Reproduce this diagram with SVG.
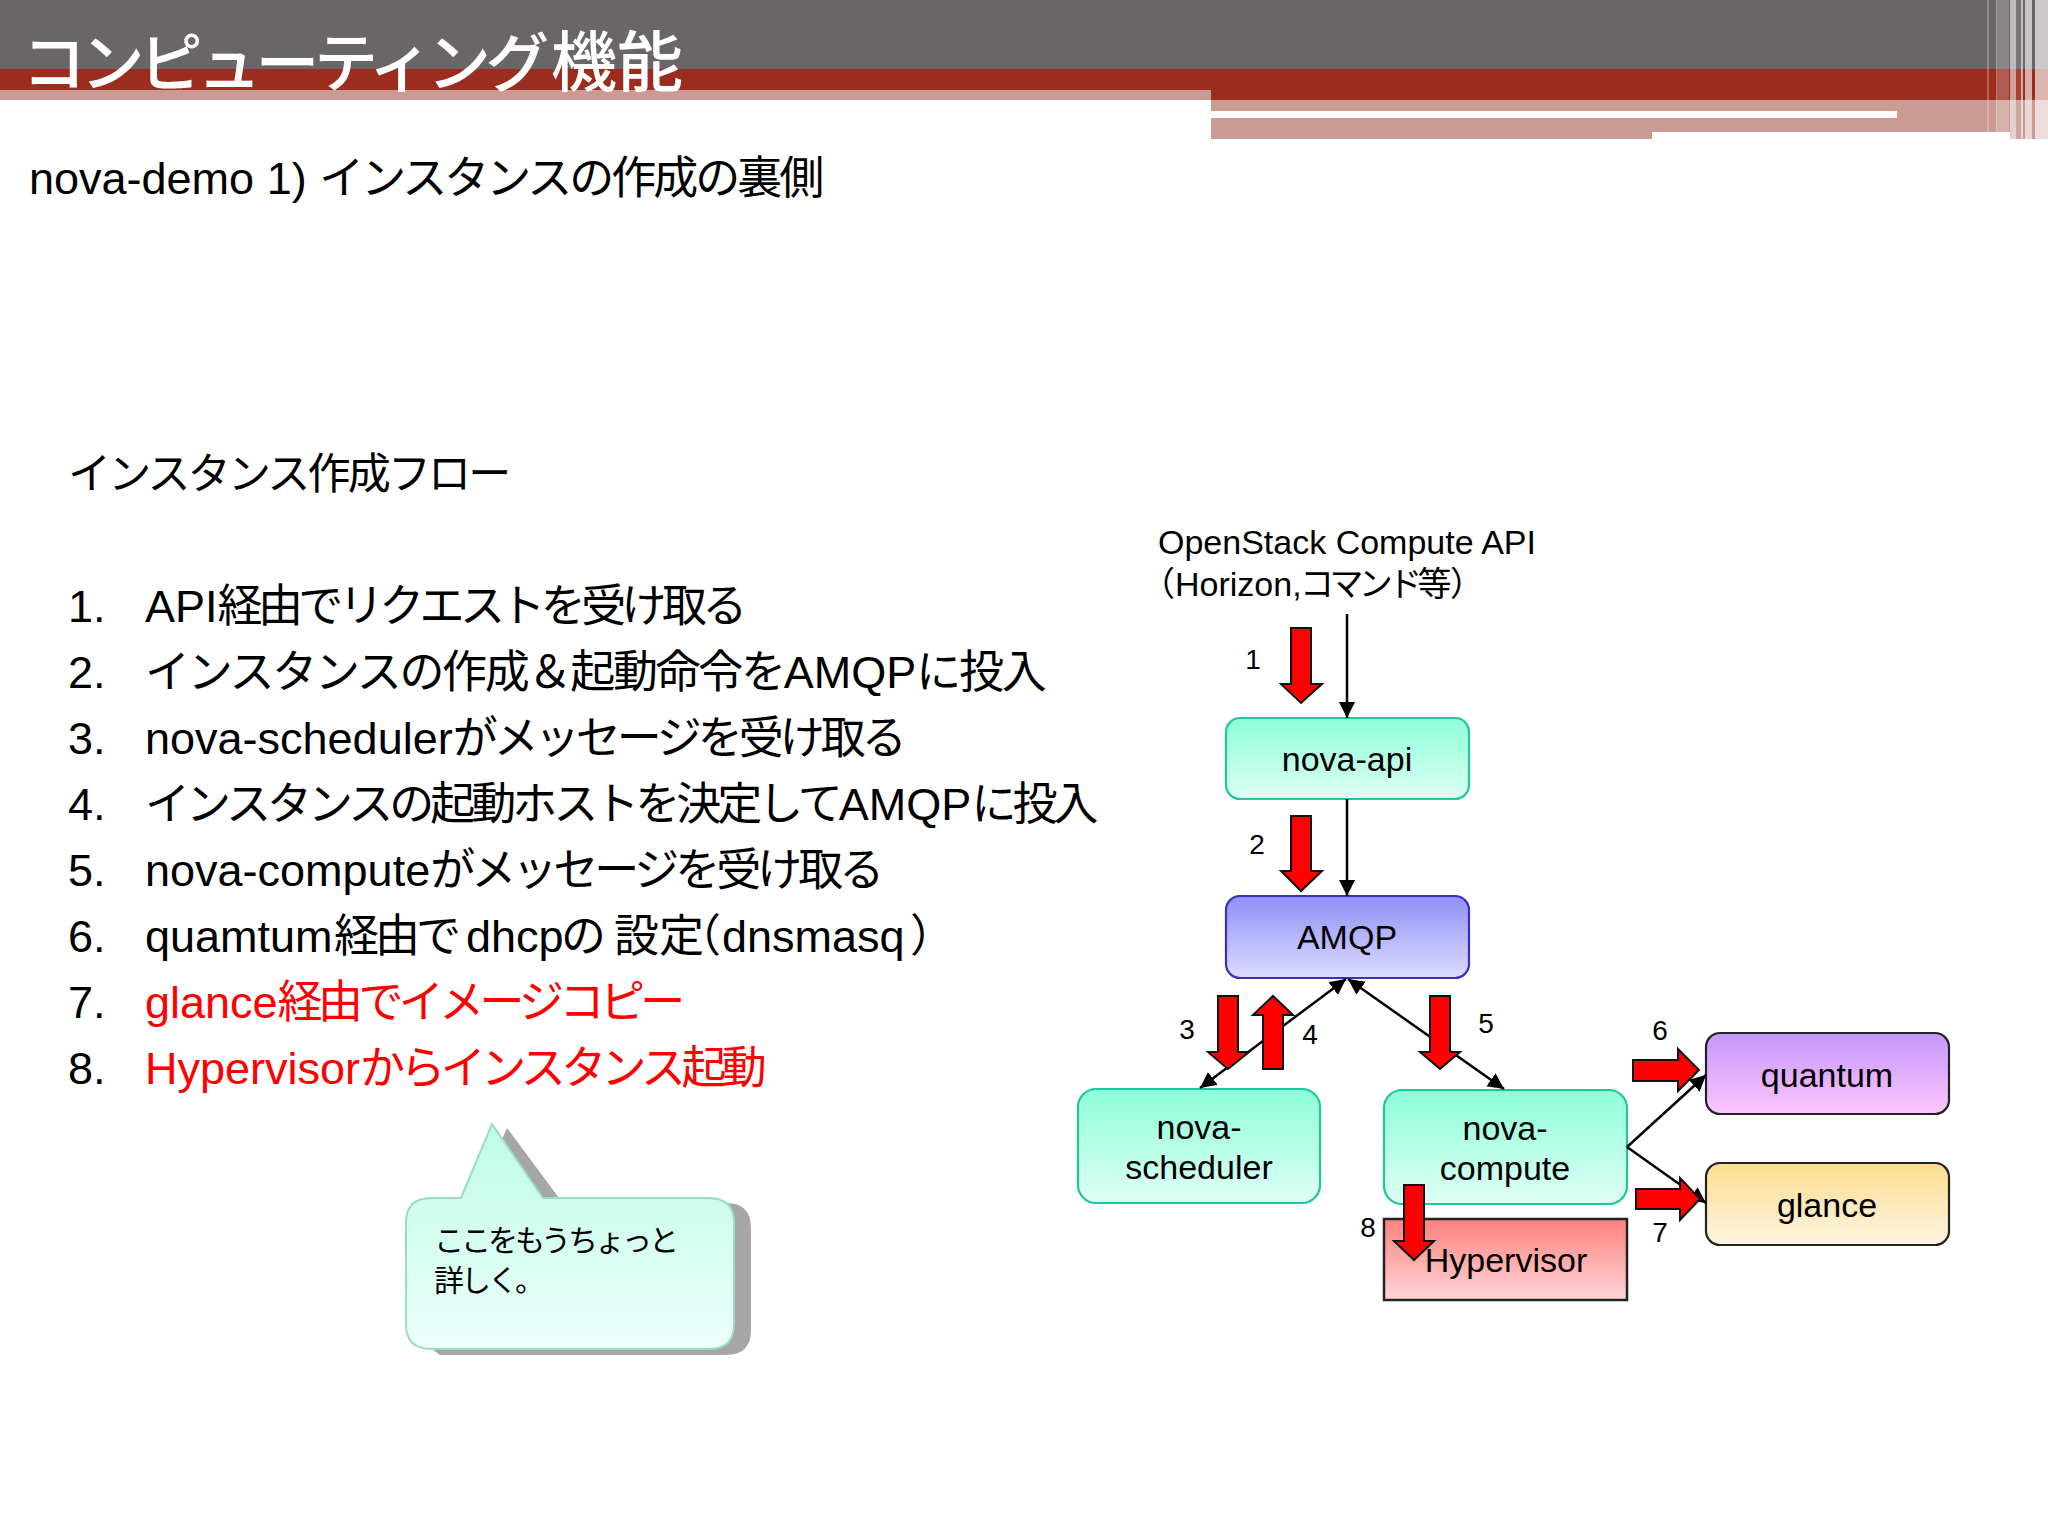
<svg xmlns="http://www.w3.org/2000/svg" width="2048" height="1536" viewBox="0 0 2048 1536">
<style>
text{font-family:"Liberation Sans","Noto Sans CJK JP",sans-serif;fill:#000}
.li{font-size:45px}
.red,.red tspan{fill:#f00}
.n{font-size:34px;text-anchor:middle}
.num{font-size:28px;text-anchor:middle}
.box{stroke-width:2.2}
.arrow{fill:#f00;stroke:#111;stroke-width:2}
.line{stroke:#000;stroke-width:2.5;fill:none}
.s2{letter-spacing:-2.3px}
.s3{letter-spacing:-3px}
.s4{letter-spacing:-4px}
.s5{letter-spacing:-4.6px}
</style>
<defs>
<linearGradient id="gTeal" x1="0" y1="0" x2="0" y2="1"><stop offset="0" stop-color="#8dffd8"/><stop offset="1" stop-color="#dffff4"/></linearGradient>
<linearGradient id="gBlue" x1="0" y1="0" x2="0" y2="1"><stop offset="0" stop-color="#8f8ff8"/><stop offset="1" stop-color="#dcdcff"/></linearGradient>
<linearGradient id="gRed" x1="0" y1="0" x2="0" y2="1"><stop offset="0" stop-color="#ff8080"/><stop offset="1" stop-color="#ffd6d6"/></linearGradient>
<linearGradient id="gPurple" x1="0" y1="0" x2="0" y2="1"><stop offset="0" stop-color="#c496fb"/><stop offset="1" stop-color="#fdc6ff"/></linearGradient>
<linearGradient id="gYellow" x1="0" y1="0" x2="0" y2="1"><stop offset="0" stop-color="#fddc8e"/><stop offset="1" stop-color="#fdf5e2"/></linearGradient>
<linearGradient id="gCall" x1="0" y1="0" x2="0" y2="1"><stop offset="0" stop-color="#bdfce6"/><stop offset="1" stop-color="#edfffb"/></linearGradient>
<marker id="head" markerUnits="userSpaceOnUse" markerWidth="18" markerHeight="18" refX="16" refY="8" orient="auto-start-reverse"><path d="M0 0L16 8L0 16Z" fill="#000"/></marker>
</defs>
<rect width="2048" height="1536" fill="#fff"/>
<g id="header">
<rect width="2048" height="69" fill="#6a6566"/>
<rect y="69" width="2048" height="31" fill="#9b2d1f"/>
<rect y="90" width="1211" height="10" fill="#cb9a93"/>
<rect x="1211" y="100" width="837" height="11" fill="#cb9a93"/>
<rect x="1897" y="111" width="151" height="7" fill="#cb9a93"/>
<rect x="1211" y="118" width="441" height="21" fill="#cb9a93"/>
<rect x="1652" y="118" width="396" height="14" fill="#cb9a93"/>
<rect x="2010" y="132" width="38" height="7" fill="#cb9a93"/>
<rect x="1987" y="0" width="2" height="132" fill="#fff" opacity=".25"/>
<rect x="1996" y="0" width="1" height="132" fill="#fff" opacity=".35"/>
<rect x="1997" y="0" width="12" height="132" fill="#fff" opacity=".22"/>
<rect x="2010" y="0" width="6" height="139" fill="#fff" opacity=".55"/>
<rect x="2016" y="0" width="5" height="139" fill="#fff" opacity=".1"/>
<rect x="2021" y="0" width="2" height="139" fill="#fff" opacity=".6"/>
<rect x="2025" y="0" width="7" height="139" fill="#fff" opacity=".62"/>
<rect x="2035" y="0" width="13" height="139" fill="#fff" opacity=".65"/>
</g>
<text y="86" font-size="64" font-weight="500" style="fill:#fff"><tspan x="22" letter-spacing="-5.6">コンピューティング</tspan><tspan x="551" font-size="66">機能</tspan></text>
<text x="29" y="194" font-size="45">nova-demo 1) <tspan class="s3">インスタンスの作成の裏側</tspan></text>
<text x="68" y="489" font-size="43" letter-spacing="-2.8">インスタンス作成フロー</text>
<g id="steps">
<text class="li" x="68" y="622">1.</text><text class="li" x="145" y="622">API<tspan class="s5">経由でリクエストを受け取る</tspan></text>
<text class="li" x="68" y="688">2.</text><text class="li" x="145" y="688"><tspan class="s2">インスタンスの作成＆起動命令を</tspan>AMQP<tspan class="s2">に投入</tspan></text>
<text class="li" x="68" y="754">3.</text><text class="li" x="145" y="754">nova-scheduler<tspan class="s4">がメッセージを受け取る</tspan></text>
<text class="li" x="68" y="820">4.</text><text class="li" x="145" y="820"><tspan class="s4">インスタンスの起動ホストを決定して</tspan>AMQP<tspan class="s4">に投入</tspan></text>
<text class="li" x="68" y="886">5.</text><text class="li" x="145" y="886">nova-compute<tspan class="s4">がメッセージを受け取る</tspan></text>
<text class="li" x="68" y="952">6.</text><text class="li" x="145" y="952">quamtum<tspan class="s4" x="334">経由で</tspan><tspan x="466">dhcp</tspan><tspan x="561" dx="0 8 0 -28">の設定（</tspan><tspan x="722">dnsmasq</tspan><tspan x="910">）</tspan></text>
<text class="li" x="68" y="1018">7.</text><text class="li red" x="145" y="1018">glance<tspan class="s5">経由でイメージコピー</tspan></text>
<text class="li" x="68" y="1084">8.</text><text class="li red" x="145" y="1084">Hypervisor<tspan class="s5">からインスタンス起動</tspan></text>
</g>
<g id="callout">
<path d="M507 1128L559 1198L556 1203H726Q751 1203 751 1228V1330Q751 1355 726 1355H440L420 1340L480 1190Z" fill="#a6a6a6"/>
<path d="M461 1198L492 1124L543 1198H709Q734 1198 734 1223V1324Q734 1349 709 1349H431Q406 1349 406 1324V1223Q406 1198 431 1198Z" fill="url(#gCall)" stroke="#9adcc8" stroke-width="2"/>
<text x="434" y="1251" font-size="30" letter-spacing="-3">ここをもうちょっと</text>
<text x="434" y="1291" font-size="30" letter-spacing="-3">詳しく。</text>
</g>
<text id="api-label" font-size="34"><tspan x="1158" y="554">OpenStack Compute API</tspan><tspan x="1141" y="596">（</tspan><tspan x="1175" y="596">Horizon,</tspan><tspan class="s5" x="1300" y="596">コマンド等</tspan><tspan x="1450" y="596">）</tspan></text>
<g id="nova-api"><rect class="box" x="1226" y="718" width="243" height="81" rx="14" fill="url(#gTeal)" stroke="#1fc79a"/><text class="n" x="1347" y="771">nova-api</text></g>
<g id="amqp"><rect class="box" x="1226" y="896" width="243" height="82" rx="14" fill="url(#gBlue)" stroke="#3a2fc0"/><text class="n" x="1347" y="949">AMQP</text></g>
<g id="nova-scheduler"><rect class="box" x="1078" y="1089" width="242" height="114" rx="18" fill="url(#gTeal)" stroke="#1fc79a"/><text class="n" x="1199" y="1139">nova-</text><text class="n" x="1199" y="1179">scheduler</text></g>
<g id="nova-compute"><rect class="box" x="1384" y="1090" width="243" height="114" rx="18" fill="url(#gTeal)" stroke="#1fc79a"/><text class="n" x="1505" y="1140">nova-</text><text class="n" x="1505" y="1180">compute</text></g>
<g id="hypervisor"><rect x="1384" y="1219" width="243" height="81" fill="url(#gRed)" stroke="#222" stroke-width="2.5"/><text class="n" x="1506" y="1272">Hypervisor</text></g>
<g id="quantum"><rect class="box" x="1706" y="1033" width="243" height="81" rx="14" fill="url(#gPurple)" stroke="#222"/><text class="n" x="1827" y="1087">quantum</text></g>
<g id="glance"><rect class="box" x="1706" y="1163" width="243" height="82" rx="14" fill="url(#gYellow)" stroke="#222"/><text class="n" x="1827" y="1217">glance</text></g>
<g id="connectors">
<line class="line" x1="1347" y1="614" x2="1347" y2="718" marker-end="url(#head)"/>
<line class="line" x1="1347" y1="799" x2="1347" y2="896" marker-end="url(#head)"/>
<line class="line" x1="1346" y1="979" x2="1200" y2="1088" marker-start="url(#head)" marker-end="url(#head)"/>
<line class="line" x1="1348" y1="979" x2="1504" y2="1089" marker-start="url(#head)" marker-end="url(#head)"/>
<line class="line" x1="1627" y1="1147" x2="1706" y2="1075" marker-end="url(#head)"/>
<line class="line" x1="1627" y1="1147" x2="1706" y2="1203" marker-end="url(#head)"/>
</g>
<g id="flow-arrows">
<path class="arrow" d="M1291 628H1311V684H1322L1301 703L1281 684H1291Z"/>
<path class="arrow" d="M1291 816H1311V871H1322L1301 891L1281 871H1291Z"/>
<path class="arrow" d="M1218 996H1238V1052H1249L1228 1069L1208 1052H1218Z"/>
<path class="arrow" d="M1263 1069H1283V1015H1293L1273 996L1253 1015H1263Z"/>
<path class="arrow" d="M1430 996H1450V1052H1460L1440 1069L1420 1052H1430Z"/>
<path class="arrow" d="M1404 1185H1424V1241H1434L1414 1260L1394 1241H1404Z"/>
<path class="arrow" d="M1633 1060H1678V1049L1699 1070L1678 1091V1081H1633Z"/>
<path class="arrow" d="M1636 1189H1680V1178L1700 1199L1680 1220V1209H1636Z"/>
</g>
<g id="step-numbers">
<text class="num" x="1253" y="669">1</text>
<text class="num" x="1257" y="854">2</text>
<text class="num" x="1187" y="1039">3</text>
<text class="num" x="1310" y="1044">4</text>
<text class="num" x="1486" y="1033">5</text>
<text class="num" x="1660" y="1040">6</text>
<text class="num" x="1660" y="1242">7</text>
<text class="num" x="1368" y="1237">8</text>
</g>
</svg>
